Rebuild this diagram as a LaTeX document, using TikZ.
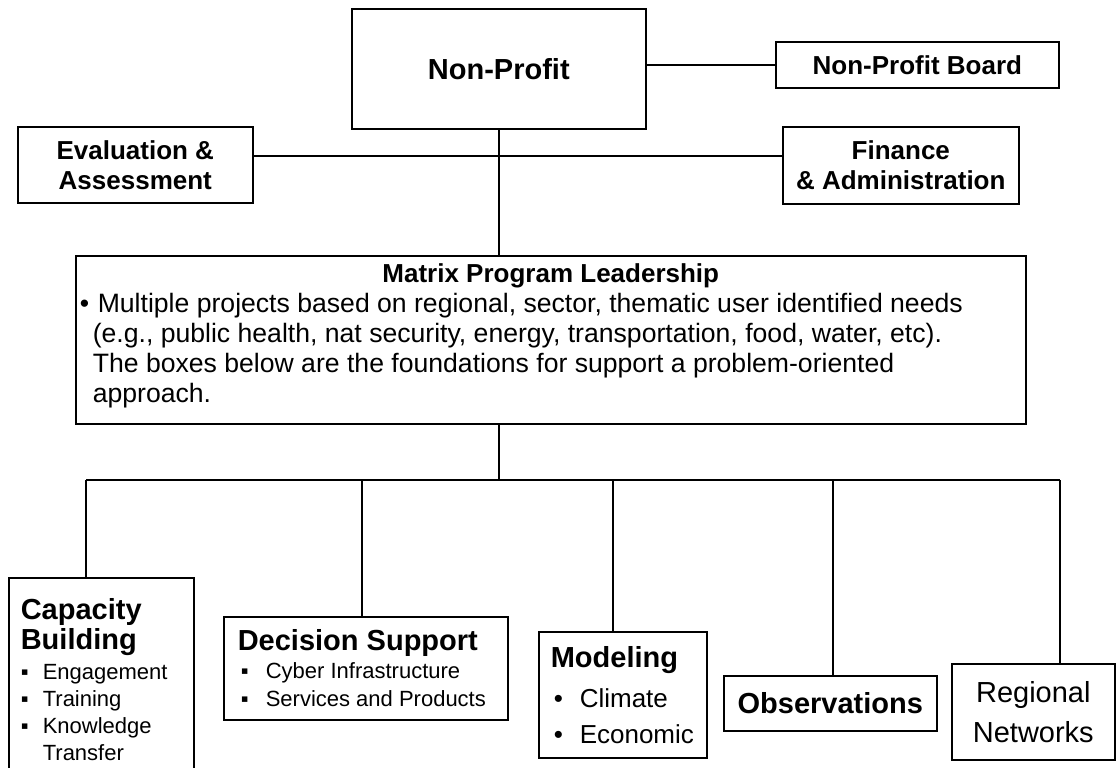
\documentclass[tikz,border=0pt]{standalone}
\usepackage{fontspec}
\setmainfont{Liberation Sans}

\begin{document}
\begin{tikzpicture}[x=1bp, y=-1bp, line width=1.6bp,
  every node/.style = {shape=rectangle, draw, inner sep=0pt, anchor=north west},
  head/.style = {align=center, font=\fontsize{26bp}{30bp}\selectfont\bfseries},
  big/.style = {align=center, font=\fontsize{29bp}{30bp}\selectfont\bfseries}]
  \clip (0,0) rectangle (1116,768);
  \node[big, minimum width=294bp, minimum height=120bp] (np) at (351,8) {Non-Profit};
  \node[head, minimum width=283bp, minimum height=46bp] (board) at (775,41) {Non-Profit Board};
  \node[head, minimum width=235bp, minimum height=76bp] (eval) at (17,126) {Evaluation \&\\Assessment};
  \node[head, minimum width=236bp, minimum height=77bp] (fin) at (782,126) {Finance\\\& Administration};
  \node[minimum width=950bp, minimum height=168bp,
    font=\fontsize{26.6bp}{30bp}\selectfont] (mat) at (75,255)
    {\parbox[c][152bp][t]{916bp}{{\centering\fontsize{26bp}{30bp}\selectfont\bfseries Matrix Program Leadership\par}
     \raggedright
     \noindent\llap{\makebox[13bp][l]{•}}\kern5bp Multiple projects based on regional, sector, thematic user identified needs\\
     (e.g., public health, nat security, energy, transportation, food, water, etc).\\
     The boxes below are the foundations for support a problem-oriented\\
     approach.}};
  \node[minimum width=185bp, minimum height=204bp] (cap) at (8,577)
    {\parbox{161bp}{\raggedright
     {\fontsize{29bp}{30bp}\selectfont\bfseries Capacity\\Building\par}
     \vspace{3bp}
     {\fontsize{22bp}{27bp}\selectfont
      \makebox[22bp][l]{▪}Engagement\\
      \makebox[22bp][l]{▪}Training\\
      \makebox[22bp][l]{▪}Knowledge\\
      \hspace*{22bp}Transfer\par}}};
  \node[minimum width=284bp, minimum height=103bp] (dec) at (223,616)
    {\parbox{256bp}{\raggedright
     {\fontsize{29bp}{30bp}\selectfont\bfseries Decision Support\par}
     {\fontsize{22bp}{28bp}\selectfont
      \makebox[28bp][l]{\hspace{3bp}▪}Cyber Infrastructure\\
      \makebox[28bp][l]{\hspace{3bp}▪}Services and Products\par}}};
  \node[minimum width=168bp, minimum height=126bp] (mod) at (538,631)
    {\parbox{144bp}{\raggedright
     {\fontsize{29bp}{30bp}\selectfont\bfseries Modeling\par}
     \vspace{4bp}
     {\fontsize{26bp}{36bp}\selectfont
      \makebox[29bp][l]{\hspace{3bp}•}Climate\\
      \makebox[29bp][l]{\hspace{3bp}•}Economic\par}}};
  \node[big, minimum width=213bp, minimum height=55bp] (obs) at (723,675) {Observations};
  \node[align=center, font=\fontsize{29bp}{40bp}\selectfont,
    minimum width=163bp, minimum height=96bp] (reg) at (951,663) {Regional\\Networks};

  \coordinate (hub) at (498,156);
  \coordinate (bus) at (499,480);
  \coordinate (tcap) at (86,480);
  \coordinate (tdec) at (362,480);
  \coordinate (tmod) at (613,480);
  \coordinate (tobs) at (833,480);
  \coordinate (treg) at (1060,480);

  \draw (board.west -| np.east) -- (board.west);
  \draw (np.south) -- (np.south |- mat.north);
  \draw (eval.east |- hub) -- (fin.west |- hub);
  \draw (bus |- mat.south) -- (bus);
  \draw (tcap) -- (treg);
  \foreach \t/\b in {tcap/cap, tdec/dec, tmod/mod, tobs/obs, treg/reg}
    \draw (\t) -- (\t |- \b.north);
\end{tikzpicture}
\end{document}
